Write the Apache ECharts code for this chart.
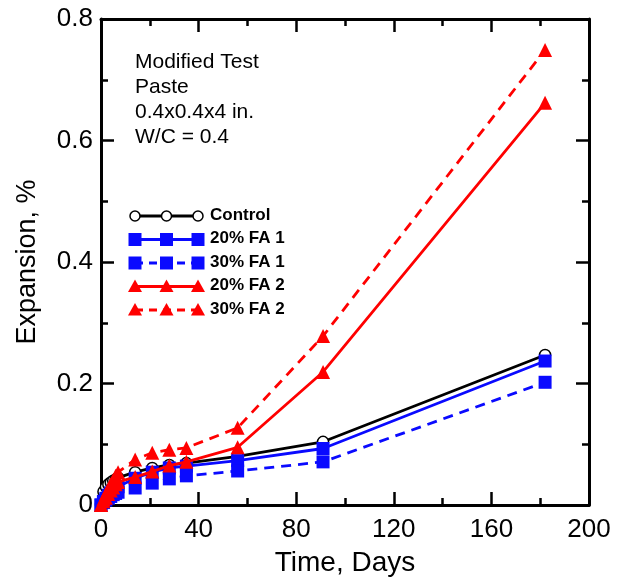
<!DOCTYPE html>
<html>
<head>
<meta charset="utf-8">
<script src="https://cdn.jsdelivr.net/npm/echarts@6/dist/echarts.min.js"></script>
<style>
  html, body { margin: 0; padding: 0; background: #fff; }
  #chart { width: 624px; height: 580px; }
</style>
</head>
<body>
<div id="chart"></div>
<script>
// Measurement ages (days)
const days = [0, 1, 2, 3, 4, 5, 6, 7, 14, 21, 28, 35, 56, 91, 182];

// Expansion (%) of each paste mixture
const control = [0, 0.022, 0.030, 0.034, 0.037, 0.040, 0.042, 0.045, 0.054, 0.061, 0.066, 0.069, 0.080, 0.104, 0.247];
const fa1_20  = [0, 0.006, 0.011, 0.016, 0.020, 0.024, 0.027, 0.030, 0.044, 0.054, 0.061, 0.064, 0.073, 0.093, 0.237];
const fa1_30  = [0, 0.004, 0.008, 0.011, 0.014, 0.017, 0.019, 0.021, 0.028, 0.036, 0.043, 0.048, 0.056, 0.071, 0.202];
const fa2_20  = [0, 0.006, 0.012, 0.018, 0.024, 0.029, 0.034, 0.038, 0.046, 0.055, 0.065, 0.071, 0.095, 0.219, 0.662];
const fa2_30  = [0, 0.010, 0.018, 0.026, 0.034, 0.041, 0.048, 0.054, 0.075, 0.086, 0.091, 0.094, 0.127, 0.278, 0.749];

const seriesNames = ['Control', '20% FA 1', '30% FA 1', '20% FA 2', '30% FA 2'];
const noteLines = ['Modified Test', 'Paste', '0.4x0.4x4 in.', 'W/C = 0.4'];

const FONT = "'Liberation Sans', Arial, Helvetica, sans-serif";
const BLUE = '#0a0aff';
const RED = '#ff0000';

// Visual style per mixture
const styles = [
  { color: '#000', symbol: 'circle', size: 11, fill: '#fff', dash: 'solid' },
  { color: BLUE, symbol: 'rect', size: 13, fill: BLUE, dash: 'solid' },
  { color: BLUE, symbol: 'rect', size: 13, fill: BLUE, dash: [10, 7] },
  { color: RED, symbol: 'triangle', size: 14, fill: RED, dash: 'solid' },
  { color: RED, symbol: 'triangle', size: 14, fill: RED, dash: [10, 7] }
];
const values = [control, fa1_20, fa1_30, fa2_20, fa2_30];

const pair = arr => days.map((d, i) => [d, arr[i]]);

const series = values.map((arr, k) => ({
  name: seriesNames[k],
  type: 'line',
  xAxisIndex: 0,
  yAxisIndex: 0,
  data: pair(arr),
  symbol: styles[k].symbol,
  symbolSize: styles[k].size,
  showAllSymbol: true,
  lineStyle: { color: styles[k].color, width: 2.8, type: styles[k].dash },
  itemStyle: {
    color: styles[k].fill,
    borderColor: styles[k].color,
    borderWidth: styles[k].symbol === 'circle' ? 1.5 : 0
  },
  emphasis: { disabled: true },
  animation: false,
  z: 2 + k
}));

// Hand-drawn key: line with three markers, bold label
const legendGraphics = [];
const keyX0 = 135, keyX1 = 198, keyTop = 216, keyStep = 23.5;
seriesNames.forEach((name, k) => {
  const y = keyTop + k * keyStep;
  const st = styles[k];
  legendGraphics.push({
    type: 'line',
    shape: { x1: keyX0, y1: y, x2: keyX1, y2: y },
    style: { stroke: st.color, lineWidth: 2.8, lineDash: st.dash === 'solid' ? null : [8, 6] },
    z: 10
  });
  [keyX0, (keyX0 + keyX1) / 2, keyX1].forEach(cx => {
    let g;
    if (st.symbol === 'circle') {
      g = { type: 'circle', shape: { cx: cx, cy: y, r: 5 }, style: { fill: '#fff', stroke: '#000', lineWidth: 1.5 } };
    } else if (st.symbol === 'rect') {
      g = { type: 'rect', shape: { x: cx - 6.5, y: y - 6.5, width: 13, height: 13 }, style: { fill: st.fill } };
    } else {
      g = { type: 'polygon', shape: { points: [[cx, y - 7], [cx + 7, y + 5.5], [cx - 7, y + 5.5]] }, style: { fill: st.fill } };
    }
    g.z = 11;
    legendGraphics.push(g);
  });
  legendGraphics.push({
    type: 'text',
    left: 210,
    top: y - 9.5,
    style: { text: name, font: 'bold 17px ' + FONT, fill: '#000' },
    z: 11
  });
});

legendGraphics.push({
  type: 'text',
  left: 135,
  top: 50,
  style: {
    text: noteLines.join('\n'),
    font: '21px ' + FONT,
    lineHeight: 25,
    fill: '#000'
  },
  z: 11
});

const tickCommon = {
  axisLine: { show: true, onZero: false, lineStyle: { color: '#000', width: 3 } },
  axisTick: { show: true, inside: true, length: 13, lineStyle: { color: '#000', width: 2.5 } },
  minorTick: { show: true, splitNumber: 2, length: 7, lineStyle: { color: '#000', width: 2.5 } },
  splitLine: { show: false },
  minorSplitLine: { show: false }
};

const option = {
  backgroundColor: '#fff',
  animation: false,
  grid: { left: 101, right: 35, top: 19, bottom: 75, containLabel: false, outerBoundsMode: 'none' },
  xAxis: [
    Object.assign({
      type: 'value', min: 0, max: 200, interval: 40, position: 'bottom',
      name: 'Time, Days', nameLocation: 'middle', nameGap: 44,
      nameTextStyle: { fontFamily: FONT, fontSize: 28, color: '#000' },
      axisLabel: { fontFamily: FONT, fontSize: 26, color: '#000', margin: 12 }
    }, tickCommon),
    Object.assign({
      type: 'value', min: 0, max: 200, interval: 40, position: 'top',
      axisLabel: { show: false }
    }, tickCommon)
  ],
  yAxis: [
    Object.assign({
      type: 'value', min: 0, max: 0.8, interval: 0.2, position: 'left',
      name: 'Expansion, %', nameLocation: 'middle', nameGap: 60, nameRotate: 90,
      nameTextStyle: { fontFamily: FONT, fontSize: 27, color: '#000' },
      axisLabel: { fontFamily: FONT, fontSize: 26, color: '#000', margin: 8 }
    }, tickCommon),
    Object.assign({
      type: 'value', min: 0, max: 0.8, interval: 0.2, position: 'right',
      axisLabel: { show: false }
    }, tickCommon)
  ],
  series: series,
  graphic: legendGraphics
};

const chart = echarts.init(document.getElementById('chart'), null, { renderer: 'canvas' });
chart.setOption(option);
</script>
</body>
</html>
